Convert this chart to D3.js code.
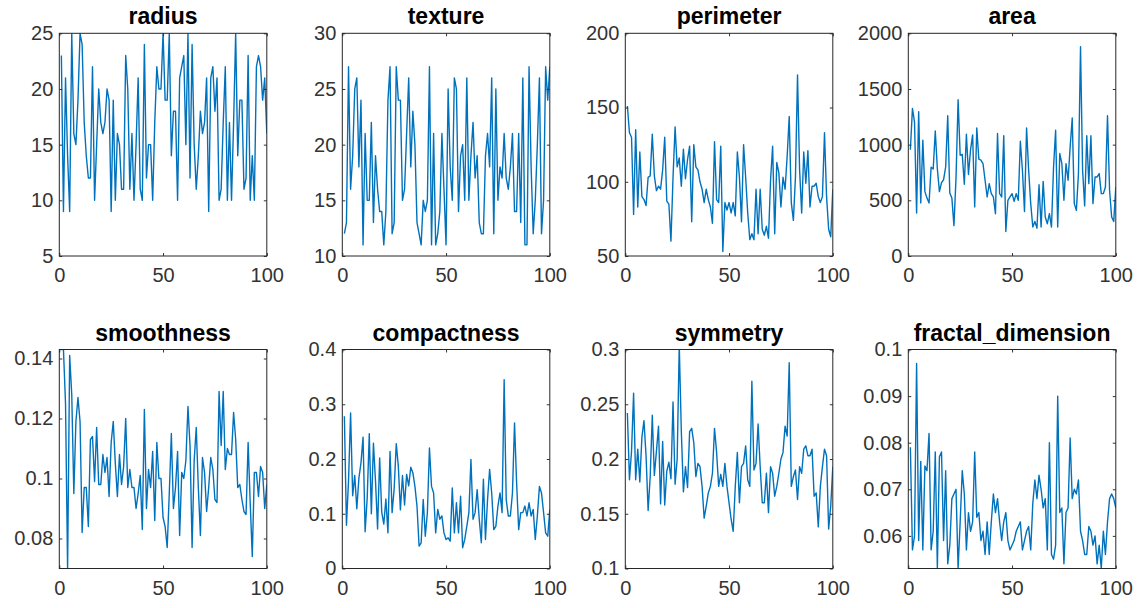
<!DOCTYPE html>
<html>
<head>
<meta charset="utf-8">
<script src="https://cdn.jsdelivr.net/npm/d3@7"></script>
<style>
  body { margin: 0; background: #fff; }
  svg text { font-family: "Liberation Sans", Arial, Helvetica, sans-serif; }
</style>
</head>
<body>
<svg id="chart" width="1140" height="608"></svg>
<script>
// feature names (one subplot each)
const titles = ["radius", "texture", "perimeter", "area",
                "smoothness", "compactness", "symmetry", "fractal_dimension"];

const xTicks = [0, 50, 100];

// values, sample 1..100
const radius = [23,9,21,14,9,25,16,15,19,25, 24,17,14,12,12,22,10,15,20,17,
  16,17,20,19,9,19,10,16,15,11, 11,23,20,11,16,10,15,21,11,10,
  24,12,15,15,10,17,22,20,20,25, 19,19,25,14,18,18,10,21,22,23,
  15,25,12,24,15,11,14,18,16,17, 21,9,21,22,18,21,10,11,17,22,
  10,17,10,17,25,14,19,19,11,12, 23,10,14,10,22,23,22,19,21,16];
const texture = [12,13,27,16,19,25,26,18,24,11, 21,15,15,22,13,19,16,14,14,11,
  14,24,27,12,13,27,24,24,15,16, 21,26,18,23,20,13,12,11,15,14,
  15,27,11,21,11,12,14,21,16,11, 25,18,15,26,25,14,19,20,15,26,
  15,19,22,17,19,13,12,12,19,21, 18,26,12,25,15,18,17,21,17,16,
  18,21,14,14,21,13,26,11,11,27, 18,12,15,20,26,12,15,27,24,27];
const perimeter = [151,133,130,78,135,83,120,90,88,84, 103,104,132,104,94,97,95,108,130,87,
  85,60,103,137,110,116,97,122,102,115, 124,73,125,110,108,100,95,86,95,88,
  83,72,127,88,86,124,53,86,81,86, 79,86,77,120,103,73,125,103,79,61,
  65,61,95,65,95,68,64,70,62,101, 124,65,113,106,83,103,95,117,144,86,
  74,103,172,108,79,120,99,121,83,97, 97,99,90,86,90,133,90,68,63,95];
const area = [954,1326,1203,386,1297,477,1040,578,520,476, 798,781,1123,783,578,659,685,798,1260,566,
  520,273,704,1404,905,913,645,1094,732,955, 1088,441,1150,870,860,830,680,530,650,560,
  530,380,1100,560,530,1080,220,500,530,560, 490,560,500,1030,770,400,1150,770,470,260,
  310,250,640,260,670,350,290,380,260,800, 1130,260,920,830,500,830,680,980,1240,470,
  410,740,1880,770,450,1080,650,1080,470,710, 710,740,560,560,620,1260,590,350,310,620];
const smoothness = [0.143,0.143,0.125,0.07,0.141,0.128,0.095,0.119,0.127,0.119,
  0.082,0.097,0.097,0.084,0.113,0.114,0.099,0.117,0.098,0.098,
  0.108,0.102,0.107,0.094,0.112,0.119,0.105,0.094,0.108,0.098,
  0.104,0.12,0.097,0.103,0.097,0.097,0.09,0.095,0.101,0.083,
  0.123,0.09,0.103,0.097,0.109,0.086,0.112,0.1,0.1,0.087,
  0.084,0.077,0.095,0.115,0.09,0.097,0.109,0.081,0.102,0.1,
  0.106,0.124,0.111,0.077,0.106,0.117,0.097,0.081,0.107,0.102,
  0.089,0.097,0.107,0.103,0.093,0.092,0.129,0.111,0.129,0.103,
  0.11,0.108,0.108,0.122,0.113,0.097,0.098,0.093,0.089,0.088,
  0.112,0.092,0.074,0.102,0.102,0.094,0.104,0.102,0.09,0.098];
const compactness = [0.278,0.079,0.16,0.284,0.133,0.17,0.109,0.165,0.193,0.24,
  0.067,0.129,0.246,0.1,0.229,0.16,0.072,0.202,0.103,0.081,
  0.127,0.065,0.214,0.102,0.146,0.228,0.187,0.107,0.17,0.116,
  0.172,0.151,0.185,0.175,0.15,0.114,0.041,0.047,0.126,0.059,
  0.102,0.22,0.15,0.138,0.065,0.108,0.09,0.096,0.065,0.053,
  0.056,0.05,0.147,0.065,0.12,0.065,0.132,0.038,0.053,0.077,
  0.102,0.199,0.09,0.102,0.144,0.09,0.047,0.163,0.053,0.126,
  0.181,0.138,0.071,0.077,0.114,0.138,0.102,0.345,0.126,0.096,
  0.096,0.138,0.266,0.157,0.071,0.102,0.102,0.114,0.096,0.12,
  0.096,0.108,0.053,0.096,0.15,0.138,0.102,0.065,0.059,0.108];
const symmetry = [0.242,0.181,0.207,0.26,0.181,0.209,0.179,0.22,0.235,0.203,
  0.153,0.184,0.24,0.185,0.207,0.23,0.159,0.216,0.158,0.189,
  0.197,0.182,0.252,0.177,0.2,0.304,0.225,0.17,0.193,0.174,
  0.225,0.228,0.215,0.184,0.196,0.193,0.175,0.146,0.157,0.169,
  0.175,0.187,0.228,0.206,0.175,0.186,0.175,0.196,0.175,0.16,
  0.145,0.134,0.175,0.206,0.16,0.193,0.196,0.212,0.181,0.175,
  0.271,0.19,0.196,0.232,0.193,0.16,0.16,0.187,0.151,0.193,
  0.187,0.166,0.175,0.187,0.2,0.206,0.23,0.221,0.288,0.175,
  0.184,0.19,0.163,0.193,0.187,0.209,0.212,0.203,0.203,0.209,
  0.166,0.169,0.138,0.175,0.193,0.209,0.203,0.136,0.157,0.193];
const fractalDimension = [0.079,0.057,0.06,0.097,0.059,0.076,0.057,0.075,0.074,0.082,
  0.057,0.061,0.078,0.053,0.077,0.078,0.059,0.074,0.054,0.058,
  0.068,0.069,0.07,0.053,0.063,0.074,0.069,0.057,0.065,0.061,
  0.063,0.078,0.064,0.065,0.059,0.061,0.056,0.063,0.056,0.063,
  0.069,0.065,0.068,0.063,0.059,0.063,0.065,0.059,0.057,0.058,
  0.059,0.061,0.062,0.063,0.057,0.059,0.061,0.062,0.057,0.067,
  0.072,0.068,0.073,0.07,0.066,0.068,0.057,0.08,0.056,0.055,
  0.058,0.09,0.065,0.066,0.054,0.065,0.066,0.081,0.068,0.07,
  0.069,0.072,0.061,0.059,0.056,0.056,0.062,0.061,0.058,0.06,
  0.054,0.058,0.053,0.061,0.056,0.063,0.068,0.069,0.068,0.066];

// y limits and y tick labels per subplot
const yLimits = [[5, 25], [10, 30], [50, 200], [0, 2000],
                 [0.07, 0.143], [0, 0.4], [0.1, 0.3], [0.053, 0.1]];
const yTicks = [[5, 10, 15, 20, 25], [10, 15, 20, 25, 30], [50, 100, 150, 200],
                [0, 500, 1000, 1500, 2000], [0.08, 0.1, 0.12, 0.14],
                [0, 0.1, 0.2, 0.3, 0.4], [0.1, 0.15, 0.2, 0.25, 0.3],
                [0.06, 0.07, 0.08, 0.09, 0.1]];

const series = [radius, texture, perimeter, area,
                smoothness, compactness, symmetry, fractalDimension];

const svg = d3.select("#chart");

const boxW = 207.5;
const rowTop = [33.3, 349.5];
const rowH = [222.7, 219];
const colLeft = c => 59.3 + 283 * c;
const ink = "#333333";

titles.forEach((name, k) => {
    const col = k % 4, row = Math.floor(k / 4);
    const h = rowH[row];

    const g = svg.append("g")
        .attr("transform", `translate(${colLeft(col)},${rowTop[row]})`);

    const x = d3.scaleLinear().domain([0, 100]).range([0, boxW]);
    const y = d3.scaleLinear().domain(yLimits[k]).range([h, 0]);

    g.append("clipPath").attr("id", "clip" + k)
        .append("rect").attr("width", boxW).attr("height", h);

    const line = d3.line()
        .x((d, i) => x(i + 1))
        .y(d => y(d));

    g.append("path")
        .datum(series[k])
        .attr("clip-path", `url(#clip${k})`)
        .attr("fill", "none")
        .attr("stroke", "#0072BD")
        .attr("stroke-width", 1.4)
        .attr("stroke-linejoin", "round")
        .attr("d", line);

    // axes: ticks point inward, MATLAB style, on all four sides
    const fmt = d => String(d);
    g.append("g")
        .attr("transform", `translate(0,${h})`)
        .call(d3.axisBottom(x).tickValues(xTicks).tickFormat(fmt)
            .tickSizeInner(-3).tickSizeOuter(0).tickPadding(12));
    g.append("g")
        .call(d3.axisLeft(y).tickValues(yTicks[k]).tickFormat(fmt)
            .tickSizeInner(-3).tickSizeOuter(0).tickPadding(6));
    g.append("g")
        .call(d3.axisTop(x).tickValues(xTicks).tickFormat("")
            .tickSizeInner(-3).tickSizeOuter(0));
    g.append("g")
        .attr("transform", `translate(${boxW},0)`)
        .call(d3.axisRight(y).tickValues(yTicks[k]).tickFormat("")
            .tickSizeInner(-3).tickSizeOuter(0));

    g.selectAll(".domain").remove();
    g.selectAll(".tick line").attr("stroke", ink);
    g.selectAll(".tick text")
        .attr("fill", ink)
        .style("font-size", "20px");

    g.append("rect")
        .attr("width", boxW).attr("height", h)
        .attr("fill", "none")
        .attr("stroke", "#262626")
        .attr("stroke-width", 1);

    g.append("text")
        .attr("x", boxW / 2)
        .attr("y", -9)
        .attr("text-anchor", "middle")
        .style("font-size", "23px")
        .style("font-weight", "bold")
        .attr("fill", "#000")
        .text(name);
});
</script>
</body>
</html>
